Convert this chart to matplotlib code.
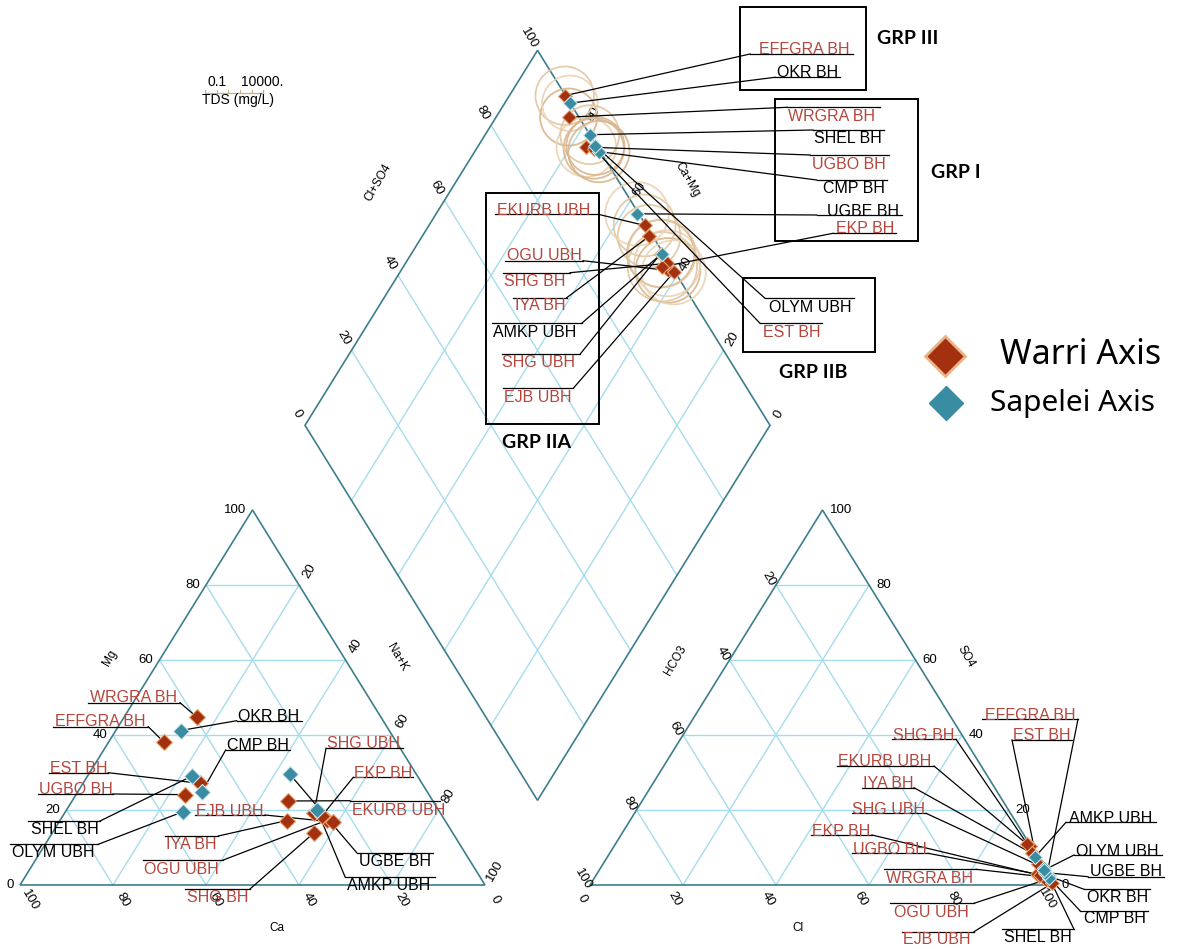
import matplotlib.pyplot as plt
import numpy as np
from matplotlib.patches import Circle, Polygon, Rectangle

plt.rcParams["font.family"] = ["Liberation Sans", "DejaVu Sans"]

# ---- sample data (% meq/L) ----
names = ["EFFGRA BH", "WRGRA BH", "UGBO BH", "EKURB UBH", "OGU UBH", "SHG BH",
         "IYA BH", "SHG UBH", "EJB UBH", "EKP BH", "EST BH",
         "OKR BH", "SHEL BH", "CMP BH", "UGBE BH", "AMKP UBH", "OLYM UBH"]
aquifer = ["Warri"] * 11 + ["Sapelei"] * 6

ca = [50.0, 39.6, 52.5, 31.2, 25.3, 29.7, 34.0, 27.1, 24.3, 26.0, 47.7,
      44.8, 48.4, 48.5, 27.2, 26.1, 55.3]
mg = [38.1, 44.8, 24.1, 22.4, 17.3, 14.0, 17.2, 19.3, 16.8, 18.3, 27.1,
      41.2, 29.1, 24.8, 29.6, 20.1, 19.5]
na_k = [11.9, 15.6, 23.4, 46.4, 57.4, 56.3, 48.8, 53.6, 58.9, 55.7, 25.2,
        14.0, 22.5, 26.7, 43.2, 53.8, 25.2]

hco3 = [0.2, 2.2, 2.4, 0.3, 1.3, 0.5, 0.8, 0.6, 0.3, 2.0, 1.0,
        0.1, 0.0, 0.3, 0.4, 0.4, 0.3]
so4 = [3.0, 2.3, 2.9, 10.3, 1.4, 11.0, 8.5, 5.0, 0.5, 2.6, 5.5,
       2.4, 4.6, 1.8, 3.3, 7.6, 4.0]
cl = [96.8, 95.5, 94.7, 89.4, 97.3, 88.5, 90.7, 94.4, 99.2, 95.4, 93.5,
      97.5, 95.4, 97.9, 96.3, 92.0, 95.7]

tds = [150, 120, 180, 260, 420, 520, 300, 650, 380, 900, 200,
       90, 160, 240, 350, 700, 140]

ticks = [0, 20, 40, 60, 80, 100]

# ---- layout (figure pixels) ----
W, H = 465.0, 375.0
BASE = 885.0
CAT_X0 = 20.0
AN_X0 = 590.0
DB_X = (CAT_X0 + W + AN_X0) / 2
DB_Y = BASE - (AN_X0 - CAT_X0 - W) / 2 * H / (W / 2)

EDGE = "#3e7d8e"
GRID = "#a6dced"
RED_TXT = "#b5463c"
STYLE = {
    "Warri": dict(face="#a3300e", edge="#e6a472", txt=RED_TXT),
    "Sapelei": dict(face="#3a8ca2", edge="#cde6ec", txt="black"),
}


def cation_xy(c, m, n):
    c, m, n = map(np.asarray, (c, m, n))
    t = c + m + n
    return CAT_X0 + W * (n / t + m / t / 2), BASE - H * m / t


def anion_xy(h, s, c):
    h, s, c = map(np.asarray, (h, s, c))
    t = h + s + c
    return AN_X0 + W * (c / t + s / t / 2), BASE - H * s / t


def diamond_xy(cs, cm):
    cs, cm = np.asarray(cs) / 100, np.asarray(cm) / 100
    return DB_X + W / 2 * (cs - cm), DB_Y - H * (cs + cm)


def draw_triangle(ax, x0):
    for f in (0.2, 0.4, 0.6, 0.8):
        ax.plot([x0 + W * f / 2, x0 + W - W * f / 2], [BASE - H * f] * 2, color=GRID, lw=1, zorder=1)
        ax.plot([x0 + W * f, x0 + W * (f + (1 - f) / 2)], [BASE, BASE - H * (1 - f)], color=GRID, lw=1, zorder=1)
        ax.plot([x0 + W * f, x0 + W * f / 2], [BASE, BASE - H * f], color=GRID, lw=1, zorder=1)
    ax.add_patch(Polygon([(x0, BASE), (x0 + W, BASE), (x0 + W / 2, BASE - H)], closed=True,
                         fill=False, ec=EDGE, lw=1.2, zorder=2))


def draw_diamond(ax):
    for f in (20, 40, 60, 80):
        x, y = diamond_xy([f, f], [0, 100])
        ax.plot(x, y, color=GRID, lw=1, zorder=1)
        x, y = diamond_xy([0, 100], [f, f])
        ax.plot(x, y, color=GRID, lw=1, zorder=1)
    x, y = diamond_xy([0, 100, 100, 0], [0, 0, 100, 100])
    ax.add_patch(Polygon(np.column_stack([x, y]), closed=True, fill=False, ec=EDGE, lw=1.2, zorder=2))


def put_labels(ax, xs, ys, layout):
    for i, name in enumerate(names):
        cx, cy, ly, x0, x1, side = layout[name]
        st = STYLE[aquifer[i]]
        ax.text(cx, cy + 5.5, name, color=st["txt"], fontsize=11.5, ha="center", va="baseline", zorder=6)
        ax.plot([x0, x1], [ly, ly], color="black", lw=0.9, zorder=4)
        end_x = x0 if side == "l" else x1
        ax.plot([end_x, xs[i]], [ly, ys[i]], color="black", lw=0.9, zorder=4)


def put_markers(ax, xs, ys, ms):
    for grp in ("Warri", "Sapelei"):
        idx = [i for i, a in enumerate(aquifer) if a == grp]
        st = STYLE[grp]
        ax.plot(np.asarray(xs)[idx], np.asarray(ys)[idx], "D", ms=ms, mfc=st["face"],
                mec=st["edge"], mew=0.8, ls="none", zorder=5)


# label placement: centre x, centre y, rule y, rule x0, rule x1, leader side
cat_layout = {
    "WRGRA BH": (134, 697, 702.7, 88, 180, "r"),
    "EFFGRA BH": (100.5, 721, 726.7, 52.7, 148.3, "r"),
    "OKR BH": (269, 715.3, 720.7, 236.7, 301.7, "l"),
    "CMP BH": (257.5, 745, 750, 225.7, 290, "l"),
    "EST BH": (78.7, 767.7, 772.7, 49, 108.3, "r"),
    "UGBO BH": (75.8, 788.3, 794, 38, 113, "r"),
    "SHEL BH": (64.7, 828.3, 821, 28.3, 100, "r"),
    "OLYM UBH": (53.3, 851.7, 844.3, 10, 98.3, "r"),
    "SHG UBH": (364, 742.3, 748.3, 326, 402.7, "l"),
    "EKP BH": (383.3, 772.3, 777.3, 353.3, 413.3, "l"),
    "EKURB UBH": (398.3, 809.3, 800.7, 350, 440, "l"),
    "EJB UBH": (230, 810, 815, 195, 265, "r"),
    "IYA BH": (191.7, 843.3, 836, 165, 218.3, "r"),
    "OGU UBH": (181.7, 868.3, 860, 143.3, 223.3, "r"),
    "SHG BH": (217.7, 896.7, 889, 185, 250, "r"),
    "UGBE BH": (394.7, 860, 852.7, 356.7, 433.3, "l"),
    "AMKP UBH": (389, 885, 876.7, 345, 435, "l"),
}
an_layout = {
    "EFFGRA BH": (1030, 715, 719.3, 982, 1078, "r"),
    "EST BH": (1042, 735, 740, 1012, 1072, "l"),
    "SHG BH": (924, 734.3, 739.3, 892, 956, "r"),
    "EKURB UBH": (885, 760.7, 766, 836.8, 934, "r"),
    "IYA BH": (888, 782.7, 787.7, 862, 914, "r"),
    "SHG UBH": (889, 808.3, 813.3, 852, 926, "r"),
    "EKP BH": (841.5, 830, 835, 811, 872, "r"),
    "UGBO BH": (890, 848.3, 853.3, 852, 928, "r"),
    "WRGRA BH": (930, 877.7, 869.3, 884, 976, "r"),
    "OGU UBH": (931, 911.7, 903.3, 890, 974, "r"),
    "EJB UBH": (937, 938.3, 931.7, 902, 974, "r"),
    "AMKP UBH": (1111, 817.7, 822.3, 1066, 1156, "l"),
    "OLYM UBH": (1117, 850, 855, 1074, 1162, "l"),
    "UGBE BH": (1126, 870, 876.7, 1088, 1164, "l"),
    "OKR BH": (1118, 896.7, 889.3, 1084, 1150, "l"),
    "CMP BH": (1115, 917.7, 910.7, 1080, 1148, "l"),
    "SHEL BH": (1038, 936.7, 929.3, 1002, 1074, "r"),
}
dia_layout = {
    "EFFGRA BH": (804, 48.3, 54, 750, 853, "l"),
    "OKR BH": (808, 71.7, 77.3, 775, 840, "l"),
    "WRGRA BH": (832, 115, 107.3, 787, 880, "l"),
    "SHEL BH": (848, 137.3, 130, 813, 884, "l"),
    "UGBO BH": (848.7, 163.3, 155, 810, 889, "l"),
    "CMP BH": (853.8, 187.7, 180, 816.7, 886.7, "l"),
    "UGBE BH": (863, 210, 215, 816.7, 901.7, "l"),
    "EKP BH": (864.7, 227.7, 233.3, 833, 896, "l"),
    "OLYM UBH": (810, 306.7, 298.3, 765, 854, "l"),
    "EST BH": (791.7, 331.7, 323.3, 760, 821.7, "l"),
    "EKURB UBH": (544, 209.3, 214.3, 495, 598.3, "r"),
    "OGU UBH": (544, 255, 260.7, 505, 583, "r"),
    "SHG BH": (535, 280, 272.7, 503.3, 570, "r"),
    "IYA BH": (540, 305, 297.7, 513.3, 566.7, "r"),
    "AMKP UBH": (535, 331.7, 323.3, 491.7, 581.7, "r"),
    "SHG UBH": (539, 361.7, 354.3, 501.7, 580, "r"),
    "EJB UBH": (537.5, 396.7, 388.3, 503.3, 573.3, "r"),
}

fig = plt.figure(figsize=(11.83, 9.49), dpi=100)
ax = fig.add_axes([0, 0, 1, 1])
ax.set_xlim(0, 1183)
ax.set_ylim(949, 0)
ax.axis("off")

draw_triangle(ax, CAT_X0)
draw_triangle(ax, AN_X0)
draw_diamond(ax)

tk = dict(fontsize=9.5, ha="center", va="center", zorder=3)
for t in ticks:
    f = t / 100
    # cation triangle: Mg (left edge), Na+K (right edge), Ca (base)
    ax.text(CAT_X0 + W * f / 2 - 6, BASE - H * f, str(t), ha="right", va="center", fontsize=9.5)
    if t > 0:
        ax.text(CAT_X0 + W * (1 + f) / 2 + 10, BASE - H * (1 - f) - 14, str(t), rotation=60, **tk)
    ax.text(CAT_X0 + W * (1 - f) + 10, BASE + 15, str(t), rotation=-60, **tk)
    # anion triangle: HCO3 (left edge), Cl (base), SO4 (right edge)
    if t > 0:
        ax.text(AN_X0 + W * (1 - f) / 2 - 7, BASE - H * (1 - f) - 6, str(t), rotation=-60, **tk)
    ax.text(AN_X0 + W * f - 8, BASE + 14, str(t), rotation=-60, **tk)
    ax.text(AN_X0 + W * (1 - f / 2) + 7, BASE - H * f, str(t), ha="left", va="center", fontsize=9.5)
    # diamond: Cl+SO4 (upper left), Ca+Mg (upper right)
    x, y = diamond_xy(t, 100)
    ax.text(x - 8, y - 12, str(t), rotation=-60, **tk)
    if t < 100:
        x, y = diamond_xy(100, t)
        ax.text(x + 9, y - 11, str(t), rotation=60, **tk)

tt = dict(fontsize=8.5, ha="center", va="center")
ax.text(110, 658, "Mg", rotation=60, **tt)
ax.text(397, 657, "Na+K", rotation=-60, **tt)
ax.text(277, 928, "Ca", **tt)
ax.text(676, 660, "HCO3", rotation=60, **tt)
ax.text(966, 657, "SO4", rotation=-60, **tt)
ax.text(798, 928, "Cl", **tt)
ax.text(378, 183, "Cl+SO4", rotation=60, **tt)
ax.text(687, 180, "Ca+Mg", rotation=-60, **tt)

cx, cy = cation_xy(ca, mg, na_k)
ax_, ay_ = anion_xy(hco3, so4, cl)
dx, dy = diamond_xy(100 - np.asarray(hco3), np.asarray(ca) + np.asarray(mg))

# TDS circles on the diamond
radius = 14 + 7 * np.log10(tds)
circ_cols = ["#e2c6a2", "#d9b58c", "#ead3b6"]
for i in range(len(names)):
    ax.add_patch(Circle((dx[i], dy[i]), radius[i], fill=False, ec=circ_cols[i % 3], lw=1.3, alpha=0.9, zorder=3))

put_labels(ax, cx, cy, cat_layout)
put_labels(ax, ax_, ay_, an_layout)
put_labels(ax, dx, dy, dia_layout)
put_markers(ax, cx, cy, 8.5)
put_markers(ax, ax_, ay_, 7)
put_markers(ax, dx, dy, 7)

# group boxes
boxes = [((740, 7.3), 126, 82.7), ((775, 99.3), 143.3, 141.4),
         ((742.7, 278.3), 132.3, 74), ((486, 193.3), 113.3, 230.7)]
for (bx, by), bw, bh in boxes:
    ax.add_patch(Rectangle((bx, by), bw, bh, fill=False, ec="black", lw=1.4, zorder=6))
gk = dict(fontsize=14, fontweight="bold", ha="center", va="center", family=["Lato", "DejaVu Sans"])
ax.text(908, 38, "GRP III", **gk)
ax.text(955.5, 172, "GRP I", **gk)
ax.text(813, 373, "GRP IIB", **gk)
ax.text(537, 442, "GRP IIA", **gk)

# TDS scale
ax.text(216.7, 81.5, "0.1", fontsize=10, ha="center", va="center")
ax.text(262.3, 81.5, "10000.", fontsize=10, ha="center", va="center")
ax.plot([205, 263.3], [92.7, 92.7], color="#c9b07a", lw=0.9)
for tx in np.linspace(205, 263.3, 6):
    ax.plot([tx, tx], [92.7, 89.5], color="#c9b07a", lw=0.8)
ax.text(237.7, 100, "TDS (mg/L)", fontsize=10, ha="center", va="center")

# legend
ax.plot([945], [356], "D", ms=20, mfc="#a3300e", mec="#e8b488", mew=2)
ax.plot([946.5], [403], "D", ms=17, mfc="#3a8ca2", mec="#3a8ca2", mew=1)
lk = dict(ha="left", va="center", family=["Noto Sans", "DejaVu Sans"])
ax.text(1000, 355, "Warri Axis", fontsize=24.5, **lk)
ax.text(990, 404, "Sapelei Axis", fontsize=21.5, **lk)

fig.savefig("out.png", dpi=100)
